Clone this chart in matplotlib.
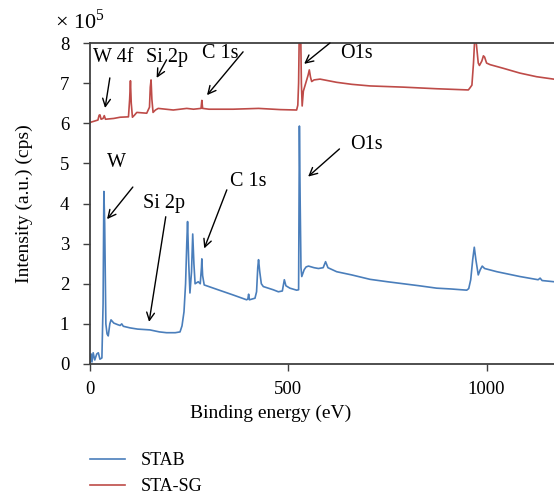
import matplotlib
matplotlib.use("Agg")
import matplotlib.pyplot as plt

plt.rcParams['font.family'] = ['Liberation Serif', 'DejaVu Serif']
plt.rcParams['mathtext.fontset'] = 'custom'
plt.rcParams['mathtext.rm'] = 'Liberation Serif'

# Binding energy (eV) and intensity (x1e5 cps)
stab_energy = [0, 3, 5, 8, 12, 17, 21, 25, 30, 33, 35, 37, 40, 43, 46, 50, 53, 60, 70, 76, 80, 84,
               101, 120, 151, 175, 193, 215, 227, 232, 237, 241, 244, 246, 249, 252, 256, 259, 262,
               265, 273, 278, 281, 282, 284, 288, 320, 361, 395, 398, 400, 402, 416, 420, 423, 425,
               428, 432, 437, 462, 475, 485, 490, 494, 504, 521, 526, 528, 530, 532, 534, 540, 545,
               551, 565, 576, 588, 594, 600, 622, 660, 706, 750, 790, 830, 874, 910, 950, 955, 960,
               965, 969, 973, 979, 984, 989, 995, 1026, 1055, 1084, 1130, 1135, 1140, 1170]
stab_intensity = [0.0, 0.25, 0.05, 0.28, 0.1, 0.25, 0.28, 0.12, 0.15, 1.5, 4.3, 3.5, 1.0, 0.75, 0.7,
                  1.0, 1.1, 1.02, 0.98, 0.96, 1.0, 0.94, 0.9, 0.87, 0.85, 0.8, 0.78, 0.78, 0.8, 0.95,
                  1.3, 2.0, 3.0, 3.55, 2.5, 1.77, 2.3, 3.24, 2.5, 2.0, 2.05, 2.0, 2.4, 2.62, 2.2, 1.97,
                  1.86, 1.72, 1.6, 1.62, 1.74, 1.6, 1.64, 1.8, 2.4, 2.6, 2.3, 2.0, 1.93, 1.85, 1.8,
                  1.82, 2.1, 1.95, 1.89, 1.84, 1.85, 5.93, 4.0, 2.4, 2.18, 2.35, 2.42, 2.44, 2.4, 2.38,
                  2.4, 2.55, 2.4, 2.3, 2.22, 2.11, 2.05, 2.0, 1.95, 1.89, 1.87, 1.84, 1.88, 2.1, 2.6,
                  2.91, 2.6, 2.22, 2.35, 2.44, 2.38, 2.3, 2.24, 2.18, 2.1, 2.14, 2.08, 2.05]

stasg_energy = [0, 10, 20, 23, 25, 28, 33, 36, 39, 60, 76, 97, 100, 102, 104, 107, 112, 118, 143, 150,
                152, 154, 156, 159, 165, 172, 210, 244, 261, 280, 282, 284, 300, 361, 425, 480, 521,
                524, 526, 528, 531, 533, 535, 538, 550, 553, 556, 559, 565, 580, 622, 660, 706, 790,
                874, 954, 958, 963, 967, 970, 973, 976, 979, 982, 988, 992, 995, 1000, 1009, 1042,
                1084, 1126, 1169]
stasg_intensity = [6.02, 6.05, 6.08, 6.2, 6.21, 6.1, 6.12, 6.19, 6.1, 6.12, 6.15, 6.16, 6.6, 7.06, 6.5,
                   6.15, 6.2, 6.27, 6.25, 6.4, 6.9, 7.08, 6.6, 6.27, 6.33, 6.37, 6.33, 6.37, 6.35, 6.37,
                   6.57, 6.37, 6.35, 6.35, 6.37, 6.34, 6.33, 6.45, 7.0, 8.5, 8.5, 7.0, 6.43, 6.8, 7.2,
                   7.33, 7.15, 7.04, 7.08, 7.1, 7.02, 6.97, 6.93, 6.9, 6.86, 6.83, 6.88, 6.95, 7.5, 8.1,
                   8.1, 7.8, 7.5, 7.44, 7.55, 7.68, 7.65, 7.5, 7.46, 7.37, 7.25, 7.16, 7.1]

series_labels = ["STAB", "STA-SG"]
x_ticks = [0, 500, 1000]
y_ticks = [0, 1, 2, 3, 4, 5, 6, 7, 8]

# annotations: (label, text position, arrow start, arrow tip)
annotations = [
    ("W 4f", (58, 7.65), (50, 7.13), (38, 6.38)),
    ("Si 2p", (194, 7.65), (193, 7.58), (168, 7.13)),
    ("C 1s", (328, 7.75), (386, 7.78), (295, 6.70)),
    ("O1s", (671, 7.75), (605, 8.0), (540, 7.48)),
    ("W", (68, 5.01), (108, 4.41), (43, 3.61)),
    ("Si 2p", (187, 4.01), (191, 3.67), (149, 1.05)),
    ("C 1s", (398, 4.54), (345, 4.34), (288, 2.88)),
    ("O1s", (696, 5.46), (629, 5.36), (550, 4.67)),
]

fig = plt.figure(figsize=(5.54, 4.94), dpi=100)
ax = fig.add_axes([90 / 554, 1 - 364 / 494, 1 - 90 / 554, (364 - 43) / 494])

blue = '#4a7ebb'
red = '#be4b48'
l1, = ax.plot(stab_energy, stab_intensity, color=blue, lw=1.2, label=series_labels[0])
l2, = ax.plot(stasg_energy, stasg_intensity, color=red, lw=1.2, label=series_labels[1])

ax.set_xlim(0, 1170)
ax.set_ylim(0, 8)
ax.set_xticks(x_ticks)
ax.set_yticks(y_ticks)
ax.tick_params(direction='out', length=5, width=1.0, color='#404040', labelsize=13.5)
ax.tick_params(axis='y', pad=10)
ax.tick_params(axis='x', pad=7)
for s in ['left', 'bottom', 'top']:
    ax.spines[s].set_color('#404040')
    ax.spines[s].set_linewidth(1.3)
ax.spines['right'].set_visible(False)

for label, tpos, start, tip in annotations:
    ax.annotate('', xy=tip, xytext=start,
                arrowprops=dict(arrowstyle='->', color='black', lw=1.0,
                                shrinkA=0, shrinkB=0, mutation_scale=14))
    ax.text(tpos[0], tpos[1], label, ha='center', va='center', fontsize=14.5)

ax.set_xlabel("Binding energy (eV)", fontsize=14)
ax.xaxis.set_label_coords(0.39, -0.128)
ax.set_ylabel("Intensity (a.u.) (cps)", fontsize=14)
ax.yaxis.set_label_coords(-0.123, 0.5)

fig.text(55 / 554, 1 - 21 / 494, "× 10$^5$", fontsize=16, ha='left', va='center')

fig.legend(handles=[l1, l2], loc='upper left', bbox_to_anchor=(90 / 554, 1 - 452 / 494),
           frameon=False, fontsize=13, handlelength=1.95, handletextpad=0.85,
           labelspacing=0.5, borderpad=0, borderaxespad=0)

fig.savefig("out.png", dpi=100)
